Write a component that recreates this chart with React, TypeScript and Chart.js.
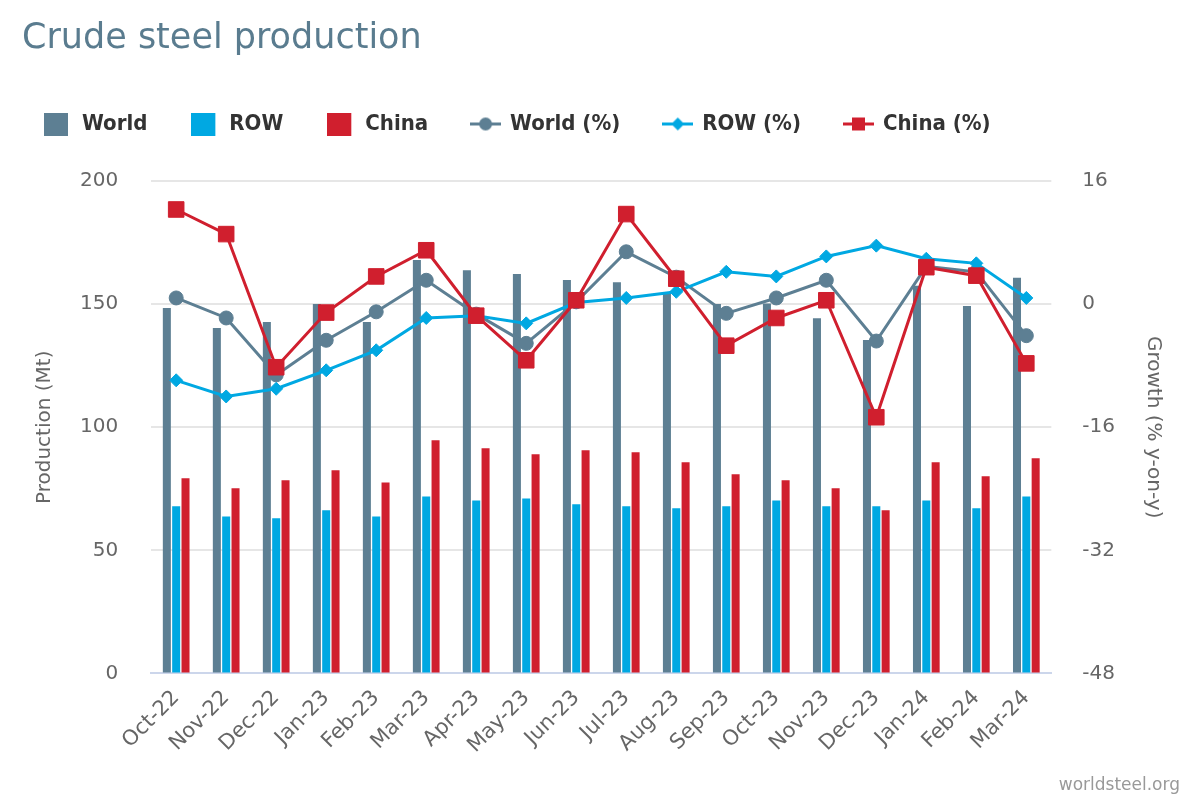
import React, { useEffect, useRef } from 'react';
import { Chart, registerables } from 'chart.js';

Chart.register(...registerables);

// ---- Data ----
const months = [
  'Oct-22', 'Nov-22', 'Dec-22', 'Jan-23', 'Feb-23', 'Mar-23', 'Apr-23', 'May-23', 'Jun-23',
  'Jul-23', 'Aug-23', 'Sep-23', 'Oct-23', 'Nov-23', 'Dec-23', 'Jan-24', 'Feb-24', 'Mar-24',
];
const worldProduction = [148.4, 140.3, 142.7, 150.0, 142.7, 167.9, 163.8, 162.2, 159.8, 158.9, 154.3, 150.0, 150.3, 144.3, 135.4, 157.5, 149.2, 160.7];
const rowProduction = [67.9, 63.8, 63.0, 66.3, 63.8, 71.9, 70.3, 71.1, 68.7, 67.9, 67.1, 67.9, 70.3, 67.9, 67.9, 70.3, 67.1, 71.9];
const chinaProduction = [79.3, 75.2, 78.5, 82.5, 77.6, 94.7, 91.5, 89.0, 90.7, 89.8, 85.8, 80.9, 78.5, 75.2, 66.3, 85.8, 80.1, 87.4];
const worldGrowth = [0.8, -1.8, -9.2, -4.7, -1.0, 3.1, -1.3, -5.1, 0.3, 6.8, 3.5, -1.2, 0.8, 3.1, -4.8, 4.9, 4.2, -4.1];
const rowGrowth = [-9.9, -12.0, -11.0, -8.6, -6.0, -1.8, -1.5, -2.5, 0.2, 0.8, 1.6, 4.2, 3.6, 6.2, 7.6, 5.9, 5.3, 0.8];
const chinaGrowth = [12.3, 9.1, -8.2, -1.1, 3.6, 7.0, -1.5, -7.3, 0.5, 11.7, 3.3, -5.4, -1.8, 0.5, -14.7, 4.8, 3.7, -7.7];

const titleText = 'Crude steel production';
const creditText = 'worldsteel.org';
const leftAxisTitle = 'Production (Mt)';
const rightAxisTitle = 'Growth (% y-on-y)';

// ---- Styles ----
const WORLD = '#5d7f93';
const ROW = '#00a8e2';
const CHINA = '#d01f2e';
const FONT = "'DejaVu Sans', sans-serif";
const LEGEND_FONT = "'DejaVu Sans Condensed', 'DejaVu Sans', sans-serif";

function squareIcon(color: string) {
  const c = document.createElement('canvas');
  c.width = 27;
  c.height = 23;
  const g = c.getContext('2d')!;
  g.fillStyle = color;
  g.fillRect(0, 0, 24, 23);
  return c;
}

function lineIcon(color: string, marker: 'circle' | 'diamond' | 'square') {
  const c = document.createElement('canvas');
  c.width = 31;
  c.height = 23;
  const g = c.getContext('2d')!;
  g.strokeStyle = color;
  g.fillStyle = color;
  g.lineWidth = 3;
  g.beginPath();
  g.moveTo(0, 11.5);
  g.lineTo(31, 11.5);
  g.stroke();
  const cx = 15.5;
  const cy = 11.5;
  g.beginPath();
  if (marker === 'circle') {
    g.arc(cx, cy, 6.5, 0, Math.PI * 2);
  } else if (marker === 'diamond') {
    g.moveTo(cx, cy - 6.5);
    g.lineTo(cx + 6.5, cy);
    g.lineTo(cx, cy + 6.5);
    g.lineTo(cx - 6.5, cy);
    g.closePath();
  } else {
    g.rect(cx - 6.5, cy - 6.5, 13, 13);
  }
  g.fill();
  return c;
}

const headerFooter = {
  id: 'headerFooter',
  afterDraw(chart: any) {
    const ctx = chart.ctx;
    ctx.save();
    ctx.textBaseline = 'alphabetic';
    ctx.textAlign = 'left';
    ctx.fillStyle = '#5a7c8f';
    ctx.font = `35px ${FONT}`;
    ctx.fillText(titleText, 22, 48);
    ctx.textAlign = 'right';
    ctx.fillStyle = '#999999';
    ctx.font = `17px ${FONT}`;
    ctx.fillText(creditText, chart.width - 20, 790);
    ctx.restore();
  },
};

export default function App() {
  const ref = useRef<HTMLCanvasElement | null>(null);

  useEffect(() => {
    if (!ref.current) return;
    const icons = [
      squareIcon(WORLD),
      squareIcon(ROW),
      squareIcon(CHINA),
      lineIcon(WORLD, 'circle'),
      lineIcon(ROW, 'diamond'),
      lineIcon(CHINA, 'square'),
    ];
    const tickFont = { family: FONT, size: 20 };

    const chart = new Chart(ref.current, {
      type: 'bar',
      data: {
        labels: months,
        datasets: [
          {
            type: 'bar', label: 'World', data: worldProduction, backgroundColor: WORLD,
            yAxisID: 'y', order: 4, categoryPercentage: 0.56, barPercentage: 0.86, borderWidth: 0,
          },
          {
            type: 'bar', label: 'ROW', data: rowProduction, backgroundColor: ROW,
            yAxisID: 'y', order: 5, categoryPercentage: 0.56, barPercentage: 0.86, borderWidth: 0,
          },
          {
            type: 'bar', label: 'China', data: chinaProduction, backgroundColor: CHINA,
            yAxisID: 'y', order: 6, categoryPercentage: 0.56, barPercentage: 0.86, borderWidth: 0,
          },
          {
            type: 'line', label: 'World (%)', data: worldGrowth, borderColor: WORLD, backgroundColor: WORLD,
            borderWidth: 3, pointStyle: 'circle', pointRadius: 7, pointBorderWidth: 1, yAxisID: 'y1', order: 3,
          },
          {
            type: 'line', label: 'ROW (%)', data: rowGrowth, borderColor: ROW, backgroundColor: ROW,
            borderWidth: 3, pointStyle: 'rectRot', pointRadius: 6.5, pointBorderWidth: 1, yAxisID: 'y1', order: 2,
          },
          {
            type: 'line', label: 'China (%)', data: chinaGrowth, borderColor: CHINA, backgroundColor: CHINA,
            borderWidth: 3, pointStyle: 'rect', pointRadius: 11, pointBorderWidth: 1, yAxisID: 'y1', order: 1,
          },
        ] as any,
      },
      options: {
        responsive: true,
        maintainAspectRatio: false,
        animation: false,
        layout: { padding: { top: 69, left: 0, right: 20, bottom: 30 } },
        plugins: {
          title: { display: false },
          subtitle: {
            display: true, text: '', position: 'top', weight: 500,
            font: { size: 10 }, padding: 12,
          } as any,
          tooltip: { enabled: false },
          legend: {
            display: true,
            position: 'top',
            align: 'start',
            labels: {
              usePointStyle: true,
              pointStyleWidth: 27,
              padding: 44,
              color: '#333333',
              font: { family: LEGEND_FONT, size: 22, weight: 'bold' },
              generateLabels: (ch: any) =>
                ch.data.datasets.map((ds: any, i: number) => ({
                  text: ds.label,
                  pointStyle: icons[i],
                  fillStyle: ds.backgroundColor,
                  strokeStyle: ds.backgroundColor,
                  lineWidth: 0,
                  hidden: false,
                  datasetIndex: i,
                  fontColor: '#333333',
                })),
            },
          },
        },
        scales: {
          x: {
            offset: true,
            grid: { display: false, drawTicks: false },
            border: { display: true, color: '#ccd6eb', width: 2 },
            ticks: {
              autoSkip: false, minRotation: 45, maxRotation: 45, padding: 12,
              font: { family: FONT, size: 21 }, color: '#666666',
            },
          },
          y: {
            position: 'left',
            min: 0,
            max: 200,
            ticks: { stepSize: 50, padding: 10, font: tickFont, color: '#666666' },
            grid: {
              color: '#e6e6e6', lineWidth: 2, drawTicks: true, tickLength: 23,
              tickColor: 'rgba(0,0,0,0)',
            },
            border: { display: false },
            title: {
              display: true, text: leftAxisTitle, color: '#666666',
              font: { family: FONT, size: 20 }, padding: { top: 33, bottom: 13 },
            },
          },
          y1: {
            position: 'right',
            min: -48,
            max: 16,
            ticks: { stepSize: 16, padding: 10, font: tickFont, color: '#666666' },
            grid: {
              display: true, drawOnChartArea: false, drawTicks: true, tickLength: 21,
              color: 'rgba(0,0,0,0)', tickColor: 'rgba(0,0,0,0)',
            },
            border: { display: false },
            title: {
              display: true, text: rightAxisTitle, color: '#666666',
              font: { family: FONT, size: 20 }, padding: { top: 15, bottom: 16 },
            },
          },
        },
      } as any,
      plugins: [headerFooter],
    });

    return () => chart.destroy();
  }, []);

  return (
    <div style={{ position: 'fixed', left: 0, top: 0, width: 1200, height: 800, background: '#ffffff' }}>
      <canvas ref={ref} />
    </div>
  );
}
